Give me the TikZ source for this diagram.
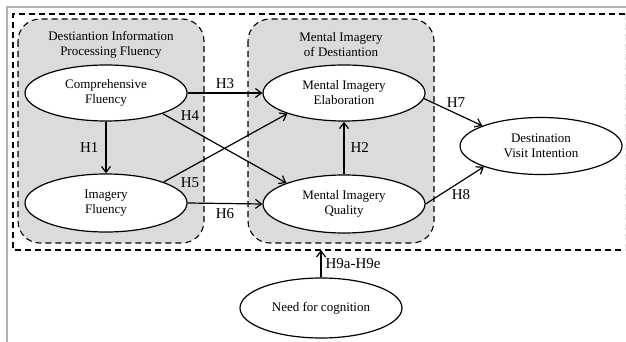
\documentclass[tikz,border=0pt]{standalone}
\usepackage{fontspec}
\setmainfont{Liberation Serif}
\usetikzlibrary{arrows.meta,shapes.geometric}
\begin{document}
\begin{tikzpicture}[x=1pt,y=-1pt,
  ell/.style={draw,line width=1.2pt,fill=white,ellipse,minimum width=162pt,minimum height=56pt,inner sep=0pt,align=center,font=\fontsize{13}{15}\selectfont},
  grp/.style={draw,dashed,dash pattern=on 6pt off 4pt,line width=1.1pt,fill=gray!28,rounded corners=22pt},
  arr/.style={line width=1.2pt,-{Straight Barb[length=6pt,width=9pt,line width=1.2pt]}},
  lab/.style={font=\fontsize{15}{17}\selectfont,inner sep=1pt},
  ttl/.style={align=center,font=\fontsize{13}{15}\selectfont}]
\useasboundingbox (0,0) rectangle (626,342);
% outer frame
\draw[gray!60,line width=1.2pt] (7,342) -- (7,7) -- (626,7);
% outer dashed box
\draw[dashed,dash pattern=on 6pt off 4pt,line width=1.2pt] (625,14) -- (13,14) -- (13,250) -- (625,250);
\draw[dashed,dash pattern=on 6pt off 4pt,line width=1pt,gray!25] (625,14) -- (625,250);
% groups
\draw[grp] (18,19) rectangle (204,243);
\draw[grp] (248,19) rectangle (434,243);
\node[ttl] (t1) at (111,45) {Destiantion Information\\Processing Fluency};
\node[ttl] (t2) at (341,45) {Mental Imagery\\of Destiantion};
% nodes
\node[ell] (cf) at (106,93) {Comprehensive\\Fluency};
\node[ell,minimum height=58pt] (if) at (106,203) {Imagery\\Fluency};
\node[ell] (me) at (344,93) {Mental Imagery\\Elaboration};
\node[ell,minimum height=58pt] (mq) at (344,204) {Mental Imagery\\Quality};
\node[ell,minimum height=57pt] (dv) at (541,146) {Destination\\Visit Intention};
\node[ell,minimum height=60pt] (nc) at (321,308) {Need for cognition};
\coordinate (mb) at (321,250);
% arrows
\draw[arr] (cf) -- node[lab,left=6pt] {H1} (if);
\draw[arr] (cf.east) -- node[lab,above=3pt] {H3} (me.west);
\draw[arr] (if.east) -- node[lab,below=3pt] {H6} (mq.west);
\draw[arr] (cf.-20) -- (mq.160);
\draw[arr] (if.20) -- (me.200);
\node[lab] (h4) at (190,116) {H4};
\node[lab] (h5) at (190,183) {H5};
\draw[arr] (mq) -- node[lab,right=5pt] {H2} (me);
\draw[arr] (me.-4) -- (dv.161);
\draw[arr] (mq.east) -- (dv.200);
\node[lab] (h7) at (456,103) {H7};
\node[lab] (h8) at (461,195) {H8};
\draw[arr] (nc) -- node[lab,right=3pt] {H9a-H9e} (mb);
\end{tikzpicture}
\end{document}
